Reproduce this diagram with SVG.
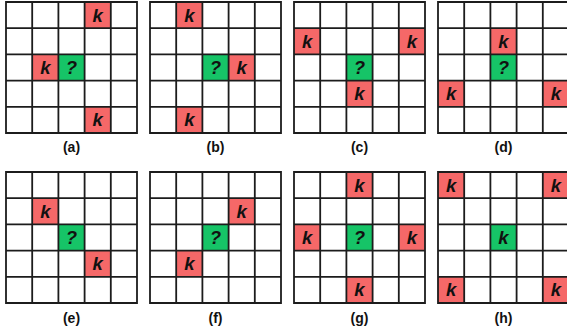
<svg xmlns="http://www.w3.org/2000/svg" xmlns:xlink="http://www.w3.org/1999/xlink" width="567" height="336" viewBox="0 0 567 336">
<style>
.r{fill:#f56868}
.g{fill:#16c467}
.t{font-family:"Liberation Sans",Arial,sans-serif;font-weight:bold;font-style:italic;font-size:18.5px;text-anchor:middle;fill:#111}
.l{font-family:"Liberation Sans",Arial,sans-serif;font-weight:bold;font-size:14px;text-anchor:middle;fill:#111}
</style>
<defs>
<path id="grid" d="M0 0H131M0 26.2H131M0 52.4H131M0 78.6H131M0 104.8H131M0 131H131M0 0V131M26.2 0V131M52.4 0V131M78.6 0V131M104.8 0V131M131 0V131" fill="none" stroke="#1c1c1c" stroke-width="1.8" stroke-linecap="square"/>
<rect id="R" class="r" width="26.2" height="26.2"/>
<rect id="G" class="g" width="26.2" height="26.2"/>
</defs>
<rect width="567" height="336" fill="#fff"/>

<g id="grid-a" transform="translate(6,2)">
<use xlink:href="#R" x="78.6" y="0"/><use xlink:href="#R" x="26.2" y="52.4"/><use xlink:href="#R" x="78.6" y="104.8"/><use xlink:href="#G" x="52.4" y="52.4"/>
<use xlink:href="#grid"/>
<text class="t" x="91.7" y="19.5">k</text><text class="t" x="39.3" y="71.9">k</text><text class="t" x="91.7" y="124.3">k</text><text class="t" x="65.5" y="71.9">?</text>
<text class="l" x="65.5" y="150">(a)</text>
</g>

<g id="grid-b" transform="translate(150,2)">
<use xlink:href="#R" x="26.2" y="0"/><use xlink:href="#R" x="78.6" y="52.4"/><use xlink:href="#R" x="26.2" y="104.8"/><use xlink:href="#G" x="52.4" y="52.4"/>
<use xlink:href="#grid"/>
<text class="t" x="39.3" y="19.5">k</text><text class="t" x="91.7" y="71.9">k</text><text class="t" x="39.3" y="124.3">k</text><text class="t" x="65.5" y="71.9">?</text>
<text class="l" x="65.5" y="150">(b)</text>
</g>

<g id="grid-c" transform="translate(294,2)">
<use xlink:href="#R" x="0" y="26.2"/><use xlink:href="#R" x="104.8" y="26.2"/><use xlink:href="#R" x="52.4" y="78.6"/><use xlink:href="#G" x="52.4" y="52.4"/>
<use xlink:href="#grid"/>
<text class="t" x="13.1" y="45.7">k</text><text class="t" x="117.9" y="45.7">k</text><text class="t" x="65.5" y="98.1">k</text><text class="t" x="65.5" y="71.9">?</text>
<text class="l" x="65.5" y="150">(c)</text>
</g>

<g id="grid-d" transform="translate(438,2)">
<use xlink:href="#R" x="52.4" y="26.2"/><use xlink:href="#R" x="0" y="78.6"/><use xlink:href="#R" x="104.8" y="78.6"/><use xlink:href="#G" x="52.4" y="52.4"/>
<use xlink:href="#grid"/>
<text class="t" x="65.5" y="45.7">k</text><text class="t" x="13.1" y="98.1">k</text><text class="t" x="117.9" y="98.1">k</text><text class="t" x="65.5" y="71.9">?</text>
<text class="l" x="65.5" y="150">(d)</text>
</g>

<g id="grid-e" transform="translate(6,172)">
<use xlink:href="#R" x="26.2" y="26.2"/><use xlink:href="#R" x="78.6" y="78.6"/><use xlink:href="#G" x="52.4" y="52.4"/>
<use xlink:href="#grid"/>
<text class="t" x="39.3" y="45.7">k</text><text class="t" x="91.7" y="98.1">k</text><text class="t" x="65.5" y="71.9">?</text>
<text class="l" x="65.5" y="151">(e)</text>
</g>

<g id="grid-f" transform="translate(150,172)">
<use xlink:href="#R" x="78.6" y="26.2"/><use xlink:href="#R" x="26.2" y="78.6"/><use xlink:href="#G" x="52.4" y="52.4"/>
<use xlink:href="#grid"/>
<text class="t" x="91.7" y="45.7">k</text><text class="t" x="39.3" y="98.1">k</text><text class="t" x="65.5" y="71.9">?</text>
<text class="l" x="65.5" y="151">(f)</text>
</g>

<g id="grid-g" transform="translate(294,172)">
<use xlink:href="#R" x="52.4" y="0"/><use xlink:href="#R" x="0" y="52.4"/><use xlink:href="#R" x="104.8" y="52.4"/><use xlink:href="#R" x="52.4" y="104.8"/><use xlink:href="#G" x="52.4" y="52.4"/>
<use xlink:href="#grid"/>
<text class="t" x="65.5" y="19.5">k</text><text class="t" x="13.1" y="71.9">k</text><text class="t" x="117.9" y="71.9">k</text><text class="t" x="65.5" y="124.3">k</text><text class="t" x="65.5" y="71.9">?</text>
<text class="l" x="65.5" y="151">(g)</text>
</g>

<g id="grid-h" transform="translate(438,172)">
<use xlink:href="#R" x="0" y="0"/><use xlink:href="#R" x="104.8" y="0"/><use xlink:href="#R" x="0" y="104.8"/><use xlink:href="#R" x="104.8" y="104.8"/><use xlink:href="#G" x="52.4" y="52.4"/>
<use xlink:href="#grid"/>
<text class="t" x="13.1" y="19.5">k</text><text class="t" x="117.9" y="19.5">k</text><text class="t" x="13.1" y="124.3">k</text><text class="t" x="117.9" y="124.3">k</text><text class="t" x="65.5" y="71.9">k</text>
<text class="l" x="65.5" y="151">(h)</text>
</g>
</svg>
